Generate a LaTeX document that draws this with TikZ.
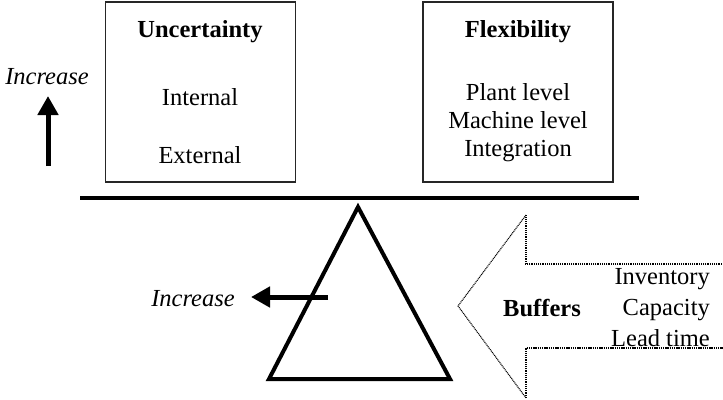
\documentclass[tikz,border=0pt]{standalone}
\usepackage{fontspec}
\setmainfont{Liberation Serif}
\usetikzlibrary{arrows.meta}
\begin{document}
\begin{tikzpicture}[x=1pt,y=-1pt,
  every node/.style={font=\fontsize{24.5}{28}\selectfont, inner sep=0pt},
  factorbox/.style={draw=black!85, line width=1.2pt, minimum width=190pt, minimum height=180pt},
  title/.style={font=\fontsize{24.5}{28}\selectfont\bfseries},
  boldarrow/.style={line width=5pt, -{Triangle[length=19pt,width=20pt]}},
  dotbold/.style={line width=2.2pt, dash pattern=on 1.3pt off 0.9pt},
  dotthin/.style={line width=1.1pt, dash pattern=on 1pt off 0.8pt}]
\useasboundingbox (0,0) rectangle (723,399);

% the two boxes resting on the beam
\node[factorbox] (unc) at (200.5,92) {};
\node[factorbox] (flex) at (518,92) {};
\node[title] (unctitle) at (200,32) {Uncertainty};
\node (internal) at (200,97) {Internal};
\node (external) at (200,155) {External};
\node[title] (flextitle) at (518,32) {Flexibility};
\node[align=center] (flexitems) at (518,123) {Plant level\\Machine level\\Integration};

% upward arrow on the left
\node (incup) at (47,77) {\itshape Increase};
\coordinate (upfrom) at (48,166);
\coordinate (upto) at (48,96);
\draw[boldarrow] (upfrom) -- (upto);

% beam and fulcrum
\coordinate (beamL) at (80,198);
\coordinate (beamR) at (639,198);
\draw[line width=4.5pt] (beamL) -- (beamR);
\coordinate (apex) at (358,207);
\coordinate (baseL) at (269,379);
\coordinate (baseR) at (450,379);
\draw[line width=4pt, line join=miter] (apex) -- (baseR) -- (baseL) -- cycle;

% leftward arrow at the fulcrum
\node (incleft) at (193,299) {\itshape Increase};
\coordinate (leftfrom) at (328,297);
\coordinate (leftto) at (251,297);
\draw[boldarrow] (leftfrom) -- (leftto);

% buffers arrow
\coordinate (shaftTR) at (724,264);
\coordinate (shaftTL) at (526,264);
\coordinate (barbT) at (526,215);
\coordinate (tip) at (458,306);
\coordinate (barbB) at (526,398);
\coordinate (shaftBL) at (526,348);
\coordinate (shaftBR) at (724,348);
\draw[dotbold] (shaftTR) -- (shaftTL) -- (barbT);
\draw[dotbold] (barbB) -- (shaftBL) -- (shaftBR);
\draw[dotthin] (barbT) -- (tip) -- (barbB);
\node[title] (buffers) at (542,308) {Buffers};
\node[align=right, anchor=east, font=\fontsize{24.5}{31}\selectfont] (bufitems) at (710,308) {Inventory\\Capacity\\Lead time};
\end{tikzpicture}
\end{document}
